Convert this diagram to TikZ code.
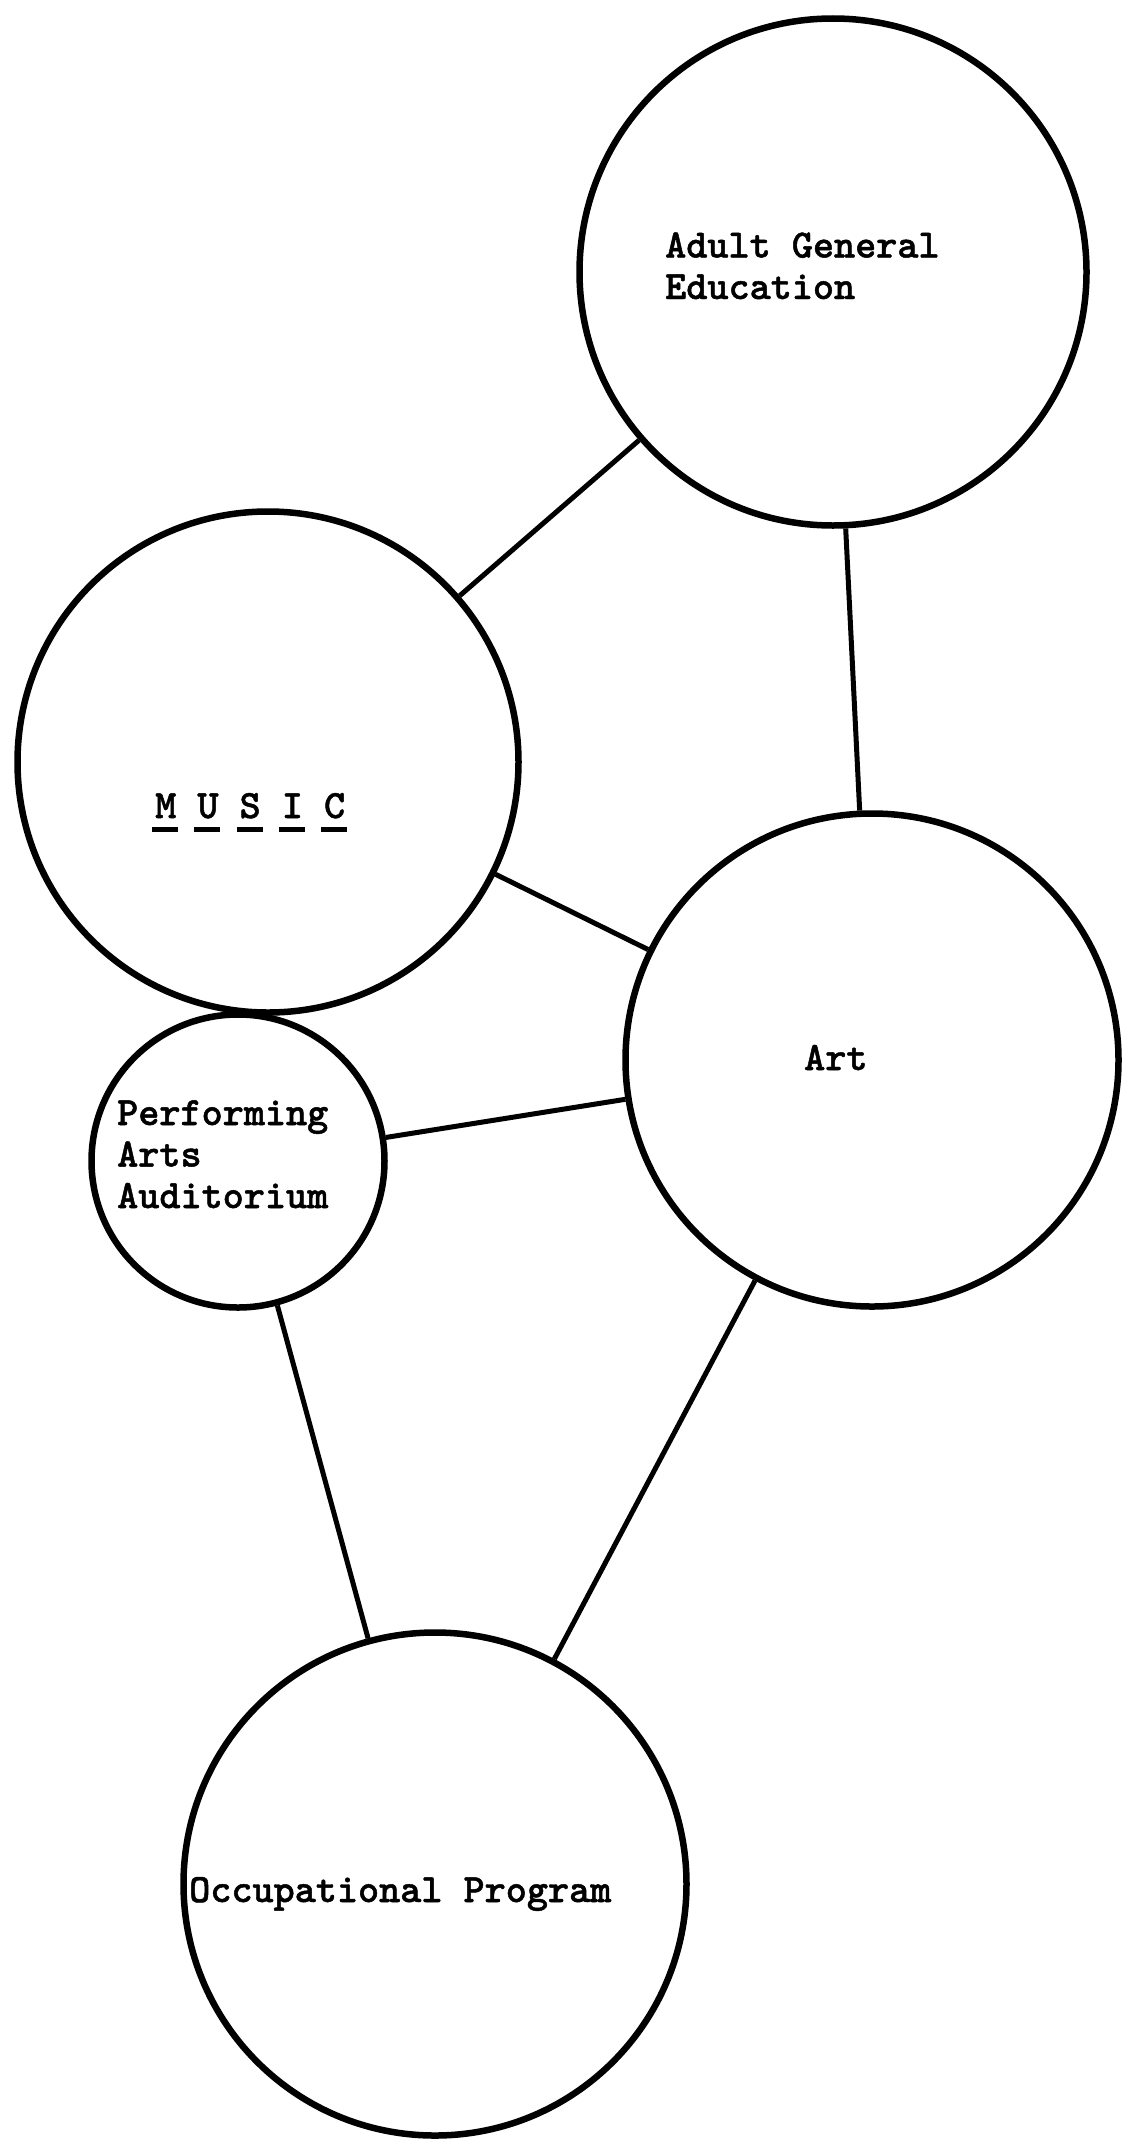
\documentclass[tikz,border=0pt]{standalone}
\usepackage{fontspec}
\newfontfamily\typew{lmmonolt10-bold.otf}[FakeBold=1.2]
\newcommand\ulx[1]{\makebox[0pt][l]{\hspace{-3pt}\rule[-14pt]{26pt}{5pt}}#1}
\tikzset{
  ring/.style={circle, draw=black, line width=6.5pt, inner sep=0pt, minimum size=#1},
  link/.style={draw=black, line width=5pt},
  lbl/.style={font=\typew\fontsize{40.2}{41.5}\selectfont, inner sep=0pt, align=left, anchor=base west}
}
\begin{document}
\begin{tikzpicture}[x=1pt,y=-1pt]
\useasboundingbox[fill=white] (0,0) rectangle (1122,2141);
% circles
\node[ring=507pt] (age)   at (833,272)  {};
\node[ring=501pt] (music) at (268,762)  {};
\node[ring=493pt] (art)   at (872,1060) {};
\node[ring=293pt] (paa)   at (238,1161) {};
\node[ring=503pt] (occ)   at (435,1884) {};
% connectors
\draw[link] (age) -- (music);
\draw[link] (age) -- (art);
\draw[link] (music) -- (art);
\draw[link] (paa) -- (art);
\draw[link] (paa) -- (occ);
\draw[link] (art) -- (occ);
% labels (base anchor = baseline of the last line)
\node[lbl] (tage)   at (665,299)  {Adult General\\Education};
\node[lbl] (tmusic) at (155,818)  {\ulx{M} \ulx{U} \ulx{S} \ulx{I} \ulx{C}};
\node[lbl] (tpaa)   at (117,1208) {Performing\\Arts\\Auditorium};
\node[lbl] (tart)   at (804,1070) {Art};
\node[lbl] (tocc)   at (189,1902) {Occupational Program};
\end{tikzpicture}
\end{document}
